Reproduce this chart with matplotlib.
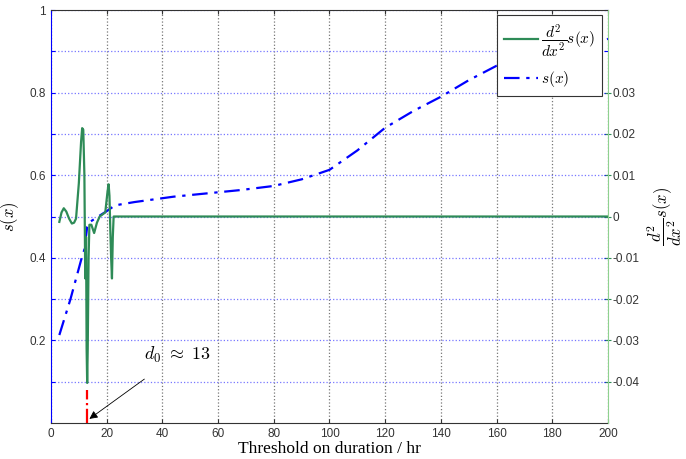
import numpy as np
import matplotlib
matplotlib.use('Agg')
import matplotlib.pyplot as plt

plt.rcParams['mathtext.fontset'] = 'cm'

# s(x) curve (left axis)
s_x = [3, 7, 11, 12, 13, 14, 17, 20, 23, 30, 44, 68, 80, 90, 100, 110, 120, 130, 140, 150, 160, 180, 200]
s_val = [0.213, 0.30, 0.399, 0.42, 0.475, 0.487, 0.50, 0.513, 0.527, 0.535, 0.548, 0.564, 0.574,
         0.59, 0.613, 0.66, 0.715, 0.755, 0.79, 0.83, 0.865, 0.90, 0.93]

# second derivative (right axis)
d2_x = [3, 3.8, 4.6, 5.5, 6.5, 7.5, 8.3, 9, 10, 10.8, 11.2, 11.6, 12.0, 12.3, 12.6, 12.8, 13.0,
        13.2, 13.5, 13.8, 14.5, 15.5, 16.5, 17.5, 19.5, 20.3, 20.7, 21.0, 21.3, 21.6, 21.9, 22.2,
        22.5, 200]
d2_val = [-0.0013, 0.0010, 0.0020, 0.0012, -0.0005, -0.0017, -0.0015, -0.0005, 0.008, 0.018,
          0.0214, 0.021, 0.010, -0.015, -0.005, -0.032, -0.0403, -0.032, -0.010, -0.002, -0.002,
          -0.004, -0.0015, 0.0, 0.001, 0.006, 0.0078, 0.005, -0.003, -0.010, -0.015, -0.005, 0.0, 0.0]

d0 = 13

left_ticks = [0.1, 0.2, 0.3, 0.4, 0.5, 0.6, 0.7, 0.8, 0.9, 1.0]
left_labels = ['', '0.2', '', '0.4', '', '0.6', '', '0.8', '', '1']
right_ticks = [-0.04, -0.03, -0.02, -0.01, 0, 0.01, 0.02, 0.03]
right_labels = ['-0.04', '-0.03', '-0.02', '-0.01', '0', '0.01', '0.02', '0.03']
x_ticks = list(range(0, 201, 20))

green = '#2e8b57'
tick_font = {'family': 'Liberation Sans', 'size': 8.5, 'color': '#333333'}

fig = plt.figure(figsize=(6.86, 4.59), dpi=100)
ax = fig.add_axes([0.0743, 0.0784, 0.812, 0.8998])
ax2 = ax.twinx()

l_s, = ax.plot(s_x, s_val, color='blue', ls=(0, (7, 3, 1.5, 3)), lw=1.6, label=r'$s(x)$')
ax.plot([d0, d0], [0, 0.08], color='red', ls='-.', lw=1.6)
ax.set_xlim(0, 200)
ax.set_ylim(0, 1)
ax.set_xticks(x_ticks)
ax.set_xticklabels([str(t) for t in x_ticks], fontdict=tick_font)
ax.set_yticks(left_ticks)
ax.set_yticklabels(left_labels, fontdict=tick_font)
ax.tick_params(axis='y', direction='in', length=3, colors='blue', right=True, labelcolor='#333333')
ax.tick_params(axis='x', direction='in', length=3, top=True, colors='#333333')
ax.xaxis.grid(True, color='#777777', ls=':', lw=0.9)
ax.yaxis.grid(True, color='#7777ff', ls=':', lw=0.9)
ax.spines['left'].set_color('blue')
ax.spines['right'].set_visible(False)
ax.spines['top'].set_color('#333333')
ax.spines['bottom'].set_color('#333333')
ax.set_ylabel(r'$s(x)$', fontsize=12, labelpad=6)
ax.set_xlabel('Threshold on duration / hr', family='Liberation Serif', fontsize=12.5, labelpad=1)

l_d, = ax2.plot(d2_x, d2_val, color=green, lw=1.6, label=r'$\dfrac{d^2}{dx^2}s(x)$')
ax2.set_ylim(-0.05, 0.05)
ax2.set_yticks(right_ticks)
ax2.set_yticklabels(right_labels, fontdict=tick_font)
ax2.tick_params(axis='y', direction='inout', length=5, colors=green, labelcolor='#333333', pad=1)
ax2.spines['right'].set_color('#8fd18f')
ax2.spines['left'].set_visible(False)
ax2.spines['top'].set_visible(False)
ax2.spines['bottom'].set_visible(False)
ax2.set_ylabel(r'$\dfrac{d^2}{dx^2}s(x)$', fontsize=12, labelpad=4)

ax.annotate(r'$d_0\ \approx\ 13$', xy=(13.8, 0.01), xytext=(33.5, 0.165),
            fontsize=13, ha='left', va='center',
            arrowprops=dict(arrowstyle='-|>', color='black', lw=0.6,
                            shrinkA=14, shrinkB=0, mutation_scale=12))

leg = ax2.legend(handles=[l_d, l_s], loc='upper right', fontsize=11, fancybox=False,
                 framealpha=1, edgecolor='#333333', handlelength=2.2, handletextpad=0.2,
                 labelspacing=0.7, borderpad=0.45,
                 bbox_to_anchor=(0.989, 0.987), borderaxespad=0)
leg.get_frame().set_linewidth(0.8)

fig.savefig('out.png', dpi=100)
